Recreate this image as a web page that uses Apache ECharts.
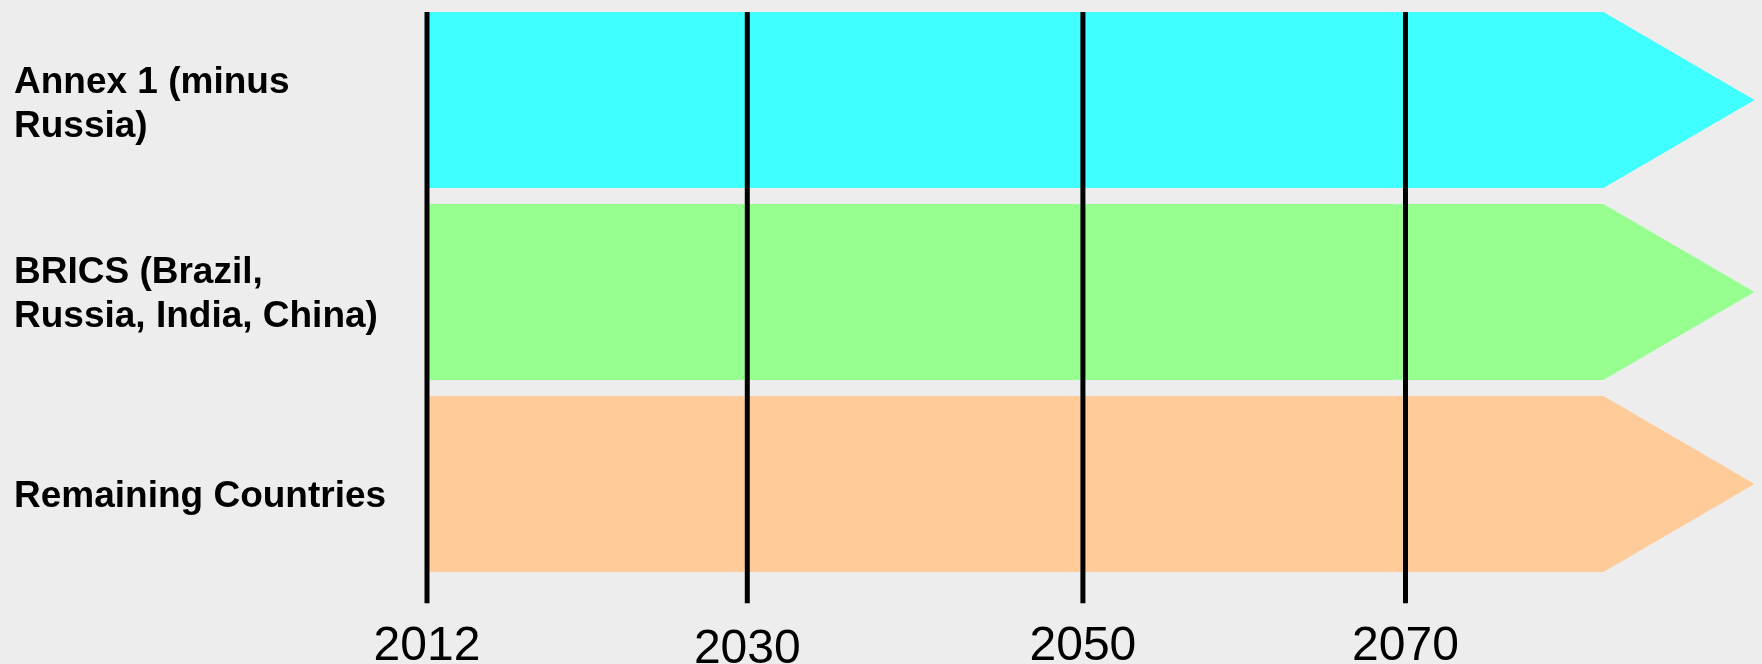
<!DOCTYPE html>
<html>
<head>
<meta charset="utf-8" />
<script src="https://cdn.jsdelivr.net/npm/echarts@6.0.0/dist/echarts.min.js"></script>
<title>Timeline</title>
<style>
  html, body { margin: 0; padding: 0; background: #ededed; }
  #main { width: 1762px; height: 664px; }
</style>
</head>
<body>
<div id="main"></div>
<script>
// rows (top to bottom)
var regions = ['Annex 1 (minus\nRussia)', 'BRICS (Brazil,\nRussia, India, China)', 'Remaining Countries'];
var regionRows = [0, 1, 2];
var regionLabelPos = [0.484, 1.473, 2.523];
// timeline milestones (schematic, not to scale)
var milestoneYears = ['2012', '2030', '2050', '2070'];
var milestonePos = [0, 0.982, 2.011, 3];
// every arrow starts at 2012 and runs off past 2070
var arrowStart = 0;
var arrowBodyEnd = 3.607;
var arrowTipEnd = 4.070;
var rowThickness = 0.917;

var colors = ['#3fffff', '#96ff90', '#ffcc99'];
var font = '"Liberation Sans", Arial, sans-serif';

var myChart = echarts.init(document.getElementById('main'));
var option = {
    backgroundColor: '#ededed',
    animation: false,
    grid: { left: 427, top: 12, width: 1335, height: 591.3, outerBoundsMode: 'none', containLabel: false },
    xAxis: {
        type: 'value',
        min: 0,
        max: 4.093,
        axisLine: { show: false },
        axisTick: { show: false },
        splitLine: { show: false },
        axisLabel: {
            customValues: milestonePos,
            formatter: function (v) {
                var i = milestonePos.indexOf(v);
                // the 2030 label sits a little lower in the original
                return i === 1 ? '{low|' + milestoneYears[i] + '}' : milestoneYears[i];
            },
            margin: 19,
            fontSize: 48,
            color: '#000',
            fontFamily: font,
            rich: {
                low: { fontSize: 48, color: '#000', fontFamily: font, padding: [3, 0, 0, 0] }
            }
        }
    },
    yAxis: {
        type: 'value',
        min: 0,
        max: 3.08,
        inverse: true,
        axisLine: { show: false },
        axisTick: { show: false },
        splitLine: { show: false },
        axisLabel: {
            customValues: regionLabelPos,
            formatter: function (v) {
                return regions[regionLabelPos.indexOf(v)];
            },
            align: 'left',
            margin: 413,
            fontSize: 37,
            lineHeight: 44,
            fontWeight: 'bold',
            color: '#000',
            fontFamily: font
        }
    },
    series: [
        {
            // arrows
            type: 'custom',
            silent: true,
            data: regionRows,
            renderItem: function (params, api) {
                var row = api.value(0);
                var top = row, bot = row + rowThickness, mid = row + rowThickness / 2;
                var pts = [
                    api.coord([arrowStart, top]),
                    api.coord([arrowBodyEnd, top]),
                    api.coord([arrowTipEnd, mid]),
                    api.coord([arrowBodyEnd, bot]),
                    api.coord([arrowStart, bot])
                ];
                return {
                    type: 'polygon',
                    shape: { points: pts },
                    style: { fill: colors[params.dataIndex] }
                };
            },
            z: 1
        },
        {
            // milestone lines
            type: 'custom',
            silent: true,
            data: milestonePos,
            renderItem: function (params, api) {
                var p1 = api.coord([api.value(0), 0]);
                var p2 = api.coord([api.value(0), 3.08]);
                return {
                    type: 'line',
                    shape: { x1: p1[0], y1: p1[1], x2: p2[0], y2: p2[1] },
                    style: { stroke: '#000', lineWidth: 5 }
                };
            },
            z: 2
        }
    ]
};
myChart.setOption(option);
</script>
</body>
</html>
